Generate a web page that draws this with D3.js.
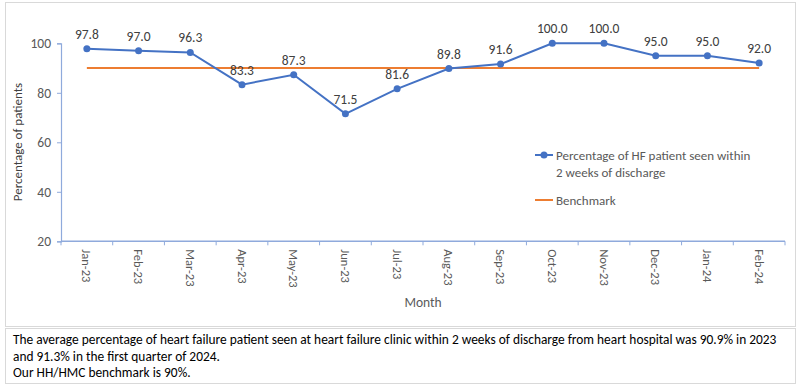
<!DOCTYPE html>
<html>
<head>
<meta charset="utf-8">
<script src="https://cdn.jsdelivr.net/npm/d3@7"></script>
<style>
  body { margin: 0; background: #fff; }
  svg { display: block; }
</style>
</head>
<body>
<svg width="800" height="386"></svg>
<script>
// 月のラベル
const months = ['Jan-23', 'Feb-23', 'Mar-23', 'Apr-23', 'May-23', 'Jun-23', 'Jul-23',
  'Aug-23', 'Sep-23', 'Oct-23', 'Nov-23', 'Dec-23', 'Jan-24', 'Feb-24']
// 2週間以内に受診した割合
const seenPct = [97.8, 97.0, 96.3, 83.3, 87.3, 71.5, 81.6, 89.8, 91.6, 100.0, 100.0, 95.0, 95.0, 92.0]
// ベンチマーク
const benchmark = months.map(() => 90)
const yTicks = [20, 40, 60, 80, 100]

const noteLines = [
  'The average percentage of heart failure patient seen at heart failure clinic within 2 weeks of discharge from heart hospital was 90.9% in 2023',
  'and 91.3% in the first quarter of 2024.',
  'Our HH/HMC benchmark is 90%.'
]

const font = 'Calibri, Carlito, "Open Sans", sans-serif'
const axisColor = '#8FAADC'
const textColor = '#595959'

const svg = d3.select('svg')

// 外枠
svg.append('rect')
  .attr('x', 5.5).attr('y', 2.5).attr('width', 790).attr('height', 324)
  .attr('fill', '#fff').attr('stroke', '#d9d9d9')
svg.append('rect')
  .attr('x', 5.5).attr('y', 328.5).attr('width', 790).attr('height', 55)
  .attr('fill', '#fff').attr('stroke', '#d9d9d9')

const x = d3.scaleBand().domain(months).range([61, 785])
const y = d3.scaleLinear().domain([20, 100]).range([241.3, 43.3])

// y軸
const yAxis = svg.append('g')
  .attr('transform', 'translate(61,0)')
  .call(d3.axisLeft(y).tickValues(yTicks).tickSize(4).tickPadding(6))
yAxis.select('.domain').attr('stroke', axisColor).attr('stroke-width', 1.2)
yAxis.selectAll('.tick line').attr('stroke', axisColor)
yAxis.selectAll('.tick text')
  .attr('fill', textColor).style('font-family', font).style('font-size', '13.5px')

// x軸（目盛りはカテゴリの境界）
const xAxisG = svg.append('g').attr('transform', `translate(0,${y(20)})`)
xAxisG.append('line')
  .attr('x1', 61).attr('x2', 785).attr('y1', 0).attr('y2', 0)
  .attr('stroke', axisColor).attr('stroke-width', 1.5)
const bounds = months.map(m => x(m)).concat([x(months[months.length - 1]) + x.bandwidth()])
xAxisG.selectAll('.bt').data(bounds).enter().append('line')
  .attr('x1', d => d).attr('x2', d => d).attr('y1', 0).attr('y2', 4)
  .attr('stroke', axisColor)
xAxisG.selectAll('.lbl').data(months).enter().append('text')
  .attr('transform', d => `translate(${x(d) + x.bandwidth() / 2},8) rotate(90)`)
  .attr('dy', '0.35em')
  .attr('fill', textColor).style('font-family', font).style('font-size', '12.5px')
  .text(d => d)

// 軸タイトル
svg.append('text')
  .attr('transform', 'translate(22,142) rotate(-90)')
  .attr('text-anchor', 'middle')
  .attr('fill', '#404040').style('font-family', font).style('font-size', '13px')
  .text('Percentage of patients')
svg.append('text')
  .attr('x', 423).attr('y', 307)
  .attr('text-anchor', 'middle')
  .attr('fill', textColor).style('font-family', font).style('font-size', '13.5px')
  .text('Month')

const cx = d => x(d) + x.bandwidth() / 2

// ベンチマーク線
svg.append('path')
  .datum(benchmark)
  .attr('fill', 'none').attr('stroke', '#ED7D31').attr('stroke-width', 2)
  .attr('d', d3.line().x((d, i) => cx(months[i])).y(d => y(d)))

// 実績線
svg.append('path')
  .datum(seenPct)
  .attr('fill', 'none').attr('stroke', '#4472C4').attr('stroke-width', 2)
  .attr('d', d3.line().x((d, i) => cx(months[i])).y(d => y(d)))
svg.selectAll('.pt').data(seenPct).enter().append('circle')
  .attr('cx', (d, i) => cx(months[i])).attr('cy', d => y(d)).attr('r', 3.5)
  .attr('fill', '#4472C4')
svg.selectAll('.dl').data(seenPct).enter().append('text')
  .attr('x', (d, i) => cx(months[i])).attr('y', d => y(d) - 10)
  .attr('text-anchor', 'middle')
  .attr('fill', '#404040').style('font-family', font).style('font-size', '13.5px')
  .text(d => d.toFixed(1))

// 凡例
const lg = svg.append('g').attr('transform', 'translate(535,155)')
lg.append('line').attr('x1', 0).attr('x2', 18).attr('stroke', '#4472C4').attr('stroke-width', 2)
lg.append('circle').attr('cx', 9).attr('r', 3.5).attr('fill', '#4472C4')
lg.append('text').attr('x', 21).attr('y', 5)
  .attr('fill', textColor).style('font-family', font).style('font-size', '13px')
  .text('Percentage of HF patient seen within')
lg.append('text').attr('x', 21).attr('y', 22)
  .attr('fill', textColor).style('font-family', font).style('font-size', '13px')
  .text('2 weeks of discharge')
lg.append('line').attr('x1', 0).attr('x2', 18).attr('y1', 45).attr('y2', 45)
  .attr('stroke', '#ED7D31').attr('stroke-width', 2)
lg.append('text').attr('x', 21).attr('y', 50)
  .attr('fill', textColor).style('font-family', font).style('font-size', '13px')
  .text('Benchmark')

// 下部の説明文
svg.selectAll('.note').data(noteLines).enter().append('text')
  .attr('x', 13).attr('y', (d, i) => 344 + i * 16.5)
  .attr('fill', '#000').style('font-family', font).style('font-size', '13.4px')
  .text(d => d)
</script>
</body>
</html>
